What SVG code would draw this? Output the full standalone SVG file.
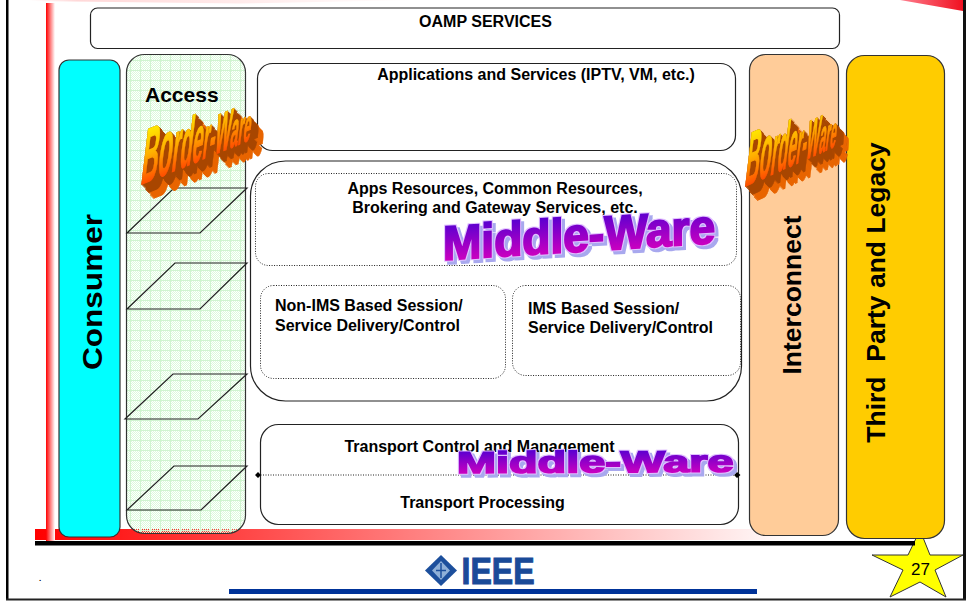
<svg xmlns="http://www.w3.org/2000/svg" width="968" height="601" viewBox="0 0 968 601">
<style>
text{font-family:"Liberation Sans",Arial,sans-serif;font-weight:bold;fill:#000}
.box{fill:#fff;stroke:#222;stroke-width:1.2}
.dot{fill:none;stroke:#222;stroke-width:1;stroke-dasharray:1 1.5}
.para{fill:none;stroke:#222;stroke-width:1.2}
.l14{font-size:16px}
.bw{fill:url(#gBW);stroke:url(#gBW);stroke-width:1.2}
.mw{fill:url(#gMW);stroke:url(#gMW)}
</style>
<defs>
<linearGradient id="gV" x1="0" x2="1" y1="0" y2="0"><stop offset="0" stop-color="#f00"/><stop offset="1" stop-color="#fff"/></linearGradient>
<linearGradient id="gH" x1="0" x2="1" y1="0" y2="0"><stop offset="0" stop-color="#f00"/><stop offset="1" stop-color="#fff"/></linearGradient>
<linearGradient id="gT" x1="0" x2="1" y1="0" y2="0"><stop offset="0" stop-color="#fff"/><stop offset=".12" stop-color="#ffd8d8"/><stop offset="1" stop-color="#fff"/></linearGradient>
<linearGradient id="gR" x1="0" x2="1" y1="0" y2="0"><stop offset="0" stop-color="#ff8090"/><stop offset="1" stop-color="#f01020"/></linearGradient>
<linearGradient id="gBW" gradientUnits="userSpaceOnUse" x1="0" x2="0" y1="-58" y2="0"><stop offset="0" stop-color="#ffee00"/><stop offset=".5" stop-color="#ffb000"/><stop offset="1" stop-color="#ff5000"/></linearGradient>
<linearGradient id="gMW" gradientUnits="userSpaceOnUse" x1="0" x2="0" y1="-36" y2="0"><stop offset="0" stop-color="#5a00d0"/><stop offset="1" stop-color="#c800c0"/></linearGradient>
<linearGradient id="gMW2" gradientUnits="userSpaceOnUse" x1="0" x2="0" y1="-22" y2="0"><stop offset="0" stop-color="#5a00d0"/><stop offset="1" stop-color="#c800c0"/></linearGradient>
<pattern id="pG" width="10" height="10" patternUnits="userSpaceOnUse">
<path d="M0 0h1v1H0zM2 0h1v1H2zM4 0h1v1H4zM6 0h1v1H6zM8 0h1v1H8zM1 1h1v1H1zM3 1h1v1H3zM5 1h1v1H5zM7 1h1v1H7zM9 1h1v1H9zM0 2h1v1H0zM2 2h1v1H2zM4 2h1v1H4zM6 2h1v1H6zM8 2h1v1H8zM1 3h1v1H1zM3 3h1v1H3zM5 3h1v1H5zM7 3h1v1H7zM9 3h1v1H9zM0 4h1v1H0zM2 4h1v1H2zM4 4h1v1H4zM6 4h1v1H6zM8 4h1v1H8zM1 5h1v1H1zM3 5h1v1H3zM5 5h1v1H5zM7 5h1v1H7zM9 5h1v1H9zM0 6h1v1H0zM2 6h1v1H2zM4 6h1v1H4zM6 6h1v1H6zM8 6h1v1H8zM1 7h1v1H1zM3 7h1v1H3zM5 7h1v1H5zM7 7h1v1H7zM9 7h1v1H9zM0 8h1v1H0zM2 8h1v1H2zM4 8h1v1H4zM6 8h1v1H6zM8 8h1v1H8zM1 9h1v1H1zM3 9h1v1H3zM5 9h1v1H5zM7 9h1v1H7zM9 9h1v1H9z" fill="#dcfadc"/>
<path d="M0 .5H10M.5 0V10" stroke="#d0f4d0" stroke-width="1"/>
</pattern>
<filter id="fX" filterUnits="userSpaceOnUse" x="0" y="0" width="968" height="601" color-interpolation-filters="sRGB">
<feOffset in="SourceAlpha" dx="1" dy="1.2" result="o1"/>
<feMerge result="a1"><feMergeNode in="SourceAlpha"/><feMergeNode in="o1"/></feMerge>
<feOffset in="a1" dx="2" dy="2.4" result="o2"/>
<feMerge result="a2"><feMergeNode in="a1"/><feMergeNode in="o2"/></feMerge>
<feOffset in="a2" dx="4" dy="4.8" result="o3"/>
<feMerge result="a3"><feMergeNode in="a2"/><feMergeNode in="o3"/></feMerge>
<feOffset in="a3" dx="5" dy="6" result="o4"/>
<feFlood flood-color="#e86400"/><feComposite in2="o4" operator="in" result="far"/>
<feFlood flood-color="#a84600"/><feComposite in2="a3" operator="in" result="near"/>
<feMerge><feMergeNode in="far"/><feMergeNode in="near"/><feMergeNode in="SourceGraphic"/></feMerge>
</filter>
<filter id="fS" filterUnits="userSpaceOnUse" x="0" y="0" width="968" height="601" color-interpolation-filters="sRGB">
<feMorphology in="SourceAlpha" operator="dilate" radius=".8" result="d"/>
<feOffset in="d" dx="3" dy="3" result="o"/>
<feFlood flood-color="#a8a8ee"/><feComposite in2="o" operator="in" result="s"/>
<feFlood flood-color="#e0c0ff"/><feComposite in2="d" operator="in" result="e"/>
<feMerge><feMergeNode in="s"/><feMergeNode in="e"/><feMergeNode in="SourceGraphic"/></feMerge>
</filter>
</defs>

<g id="slide-frame">
<rect x="8" y="0" width="955" height="599" fill="#fff"/>
<path d="M30 0H420L240 3.500 30 1Z" fill="url(#gT)"/>
<path d="M900 0H963V11Z" fill="url(#gR)"/>
<rect x="6" y="0" width="2.500" height="600" fill="#000"/>
<rect x="963" y="0" width="3" height="600" fill="#111"/>
<rect x="6" y="598.500" width="960" height="2" fill="#222"/>
<rect x="35" y="529" width="760" height="11" fill="url(#gH)"/>
<rect x="46" y="3" width="9" height="541" fill="url(#gV)"/>
<text x="39" y="581" font-size="8">.</text>
</g>

<g id="oamp"><rect class="box" x="90.500" y="8" width="749" height="40.500" rx="7"/><text x="485.500" y="27" text-anchor="middle" class="l14">OAMP SERVICES</text></g>

<g id="consumer"><rect x="59" y="60" width="61" height="477" rx="10" fill="#0ff" stroke="#333" stroke-width="1.200"/><text transform="translate(102,292) rotate(-90)" text-anchor="middle" font-size="28" textLength="156" lengthAdjust="spacingAndGlyphs">Consumer</text></g>

<g id="access"><rect x="126.500" y="54.500" width="119" height="479" rx="18" fill="url(#pG)" stroke="#333" stroke-width="1.200"/><text x="145" y="102" font-size="21">Access</text>
<path class="para" d="M127 233L174 188H247L200 233Z"/>
<path class="para" d="M127 309L175 263H247L200 309Z"/>
<path class="para" d="M125 419L173 374H247L198 419Z"/>
<path class="para" d="M127 510L174 466H247L201 510Z"/></g>

<g id="applications"><rect class="box" x="257.500" y="63.500" width="478" height="87" rx="15"/><text x="536" y="80" text-anchor="middle" class="l14">Applications and Services (IPTV, VM, etc.)</text></g>

<g id="middleware-box"><rect class="box" x="250.500" y="161" width="491" height="240" rx="35"/></g>

<g id="apps-resources"><rect class="dot" x="255.500" y="173.500" width="481" height="92" rx="13"/><text x="495" y="194" text-anchor="middle" class="l14">Apps Resources, Common Resources,</text><text x="495" y="213" text-anchor="middle" class="l14">Brokering and Gateway Services, etc.</text></g>

<g id="non-ims"><rect class="dot" x="260.500" y="285.500" width="245" height="93" rx="13"/><text x="275" y="311" class="l14">Non-IMS Based Session/</text><text x="275" y="331" class="l14">Service Delivery/Control</text></g>

<g id="ims"><rect class="dot" x="512.500" y="285.500" width="228" height="90" rx="13"/><text x="528" y="314" class="l14">IMS Based Session/</text><text x="528" y="333" class="l14">Service Delivery/Control</text></g>

<g id="transport"><rect class="box" x="260.500" y="424.500" width="478" height="100" rx="18"/><text x="479.500" y="452" text-anchor="middle" class="l14">Transport Control and Management</text><text x="482.500" y="508" text-anchor="middle" class="l14">Transport Processing</text></g>

<g id="connectors"><path class="dot" d="M258 475H737"/><path d="M258 472l3 3-3 3-3-3zM737 472l3.500 3-3.500 3-3-3z" fill="#000"/></g>

<g id="interconnect"><rect x="749.500" y="54.500" width="89" height="481" rx="16" fill="#fc9" stroke="#333" stroke-width="1.200"/><text transform="translate(801,295) rotate(-90)" text-anchor="middle" font-size="26.500">Interconnect</text></g>

<g id="page-number"><path d="M920 530L930 555H963L935 570L946 597L920 582L890 597L903 570L872 555H908Z" fill="#ff0" stroke="#333" stroke-width="1"/><text x="920.500" y="575" text-anchor="middle" font-size="17" style="font-weight:normal">27</text></g>

<g id="third-party"><rect x="846.500" y="55.500" width="98" height="483" rx="18" fill="#fc0" stroke="#333" stroke-width="1.200"/><text transform="translate(885,292.500) rotate(-90)" text-anchor="middle" font-size="26.500" xml:space="preserve">Third  Party and Legacy</text></g>

<rect id="footer-rule" x="35" y="541" width="880" height="4.500" fill="#000"/>

<g id="ieee-logo">
<path d="M441 555L457 570.500L441 586L425 570.500Z" fill="#1c4f9c"/>
<path d="M441 561L450 570.500L441 580L432 570.500Z" fill="#8fb0d8"/>
<path d="M441 563V578M436 570.500H446" stroke="#1c4f9c" stroke-width="1.500"/>
<text x="461.500" y="584" font-size="36" style="fill:#1a4a98;stroke:#1a4a98;stroke-width:1" textLength="73" lengthAdjust="spacingAndGlyphs">IEEE</text>
<rect x="229" y="589" width="528" height="5" fill="#039"/>
</g>

<g id="wordart-border-left" filter="url(#fX)"><text class="bw" style="fill:url(#gBW)" transform="matrix(.286 -.117 -.12 1 140 185)"><tspan font-size="80">B</tspan><tspan font-size="80">o</tspan><tspan font-size="74">r</tspan><tspan font-size="70">d</tspan><tspan font-size="66">e</tspan><tspan font-size="60">r</tspan><tspan font-size="58">-</tspan><tspan font-size="58">W</tspan><tspan font-size="50">a</tspan><tspan font-size="48">r</tspan><tspan font-size="46">e</tspan></text></g>

<g id="wordart-border-right" filter="url(#fX)"><text class="bw" style="fill:url(#gBW)" transform="matrix(.245 -.109 -.12 1 744 187)"><tspan font-size="78">B</tspan><tspan font-size="78">o</tspan><tspan font-size="72">r</tspan><tspan font-size="68">d</tspan><tspan font-size="64">e</tspan><tspan font-size="58">r</tspan><tspan font-size="56">-</tspan><tspan font-size="56">W</tspan><tspan font-size="48">a</tspan><tspan font-size="46">r</tspan><tspan font-size="44">e</tspan></text></g>

<g id="wordart-middle-top" filter="url(#fS)"><text class="mw" style="fill:url(#gMW);stroke-width:2" transform="matrix(.96 -.06 0 1 443 260)" font-size="48">Middle-Ware</text></g>

<g id="wordart-middle-bottom" filter="url(#fS)"><text class="mw" style="fill:url(#gMW2);stroke:url(#gMW2);stroke-width:1.600" transform="matrix(1.56 -.008 0 1 457 473)" font-size="30">Middle-Ware</text></g>
</svg>
